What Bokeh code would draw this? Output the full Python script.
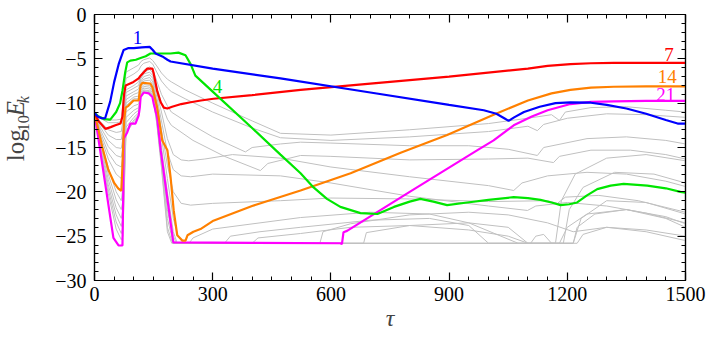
import math
from bokeh.plotting import figure
from bokeh.layouts import row
from bokeh.models import FixedTicker, LinearAxis, Label, Range1d, CustomLabelingPolicy
from bokeh.embed import file_html
from bokeh.resources import INLINE

# ---- kinetic energy of selected modes, log10 E_k versus time tau ----
mode_1 = [(0, -11.1), (8, -11.5), (18, -11.7), (27, -11.7), (40, -9.8), (50, -7.6), (62, -5.5),
          (74, -4.0), (85, -3.8), (100, -3.8), (120, -3.7), (140, -3.65), (148, -4.0), (155, -4.4),
          (165, -4.6), (175, -4.8), (185, -5.1), (193, -5.3), (300, -6.1), (472, -7.2), (700, -8.8),
          (900, -10.2), (988, -10.8), (1020, -11.2), (1040, -11.7), (1051, -12.0), (1065, -11.6),
          (1090, -11.0), (1130, -10.4), (1170, -10.0), (1208, -9.9), (1260, -9.95), (1300, -10.2),
          (1350, -10.6), (1400, -11.2), (1450, -11.9), (1480, -12.3), (1500, -12.3)]

mode_4 = [(0, -11.1), (10, -11.5), (25, -11.8), (40, -11.85), (55, -11.0), (65, -10.0), (71, -8.6),
          (78, -6.5), (83, -5.4), (91, -5.2), (105, -5.1), (117, -4.9), (130, -4.7), (142, -4.4),
          (168, -4.4), (193, -4.4), (213, -4.3), (231, -4.6), (244, -5.6), (256, -6.9), (300, -8.7),
          (400, -12.8), (472, -15.8), (523, -17.9), (556, -19.5), (590, -20.8), (624, -21.7),
          (675, -22.4), (718, -22.5), (760, -21.7), (800, -21.1), (827, -20.8), (860, -21.1),
          (895, -21.5), (946, -21.2), (1000, -20.9), (1064, -20.6), (1100, -20.7), (1132, -20.9),
          (1160, -21.2), (1183, -21.5), (1205, -21.4), (1225, -21.2), (1250, -20.4), (1276, -19.7),
          (1310, -19.3), (1343, -19.1), (1403, -19.3), (1450, -19.6), (1487, -20.0), (1500, -20.1)]

mode_7 = [(0, -11.1), (10, -12.0), (28, -12.9), (41, -12.7), (53, -12.5), (66, -12.3), (71, -11.5),
          (75, -9.0), (79, -8.0), (99, -7.6), (112, -7.2), (117, -6.9), (134, -6.1), (147, -6.1),
          (150, -6.6), (159, -8.6), (168, -9.9), (176, -10.5), (185, -10.6), (197, -10.4),
          (220, -10.1), (244, -9.9), (270, -9.7), (302, -9.5), (400, -9.1), (523, -8.5), (700, -7.8),
          (900, -7.0), (1100, -6.1), (1150, -5.8), (1208, -5.6), (1260, -5.5), (1318, -5.45),
          (1400, -5.45), (1500, -5.45)]

mode_14 = [(0, -11.1), (10, -13.0), (20, -15.0), (35, -17.5), (50, -19.0), (60, -19.6), (68, -19.9),
           (71, -17.0), (75, -12.0), (79, -10.5), (86, -10.3), (99, -9.7), (112, -9.7), (117, -8.0),
           (122, -7.7), (142, -7.8), (147, -8.2), (159, -10.5), (172, -14.2), (185, -15.3),
           (193, -18.3), (201, -22.1), (210, -24.9), (223, -25.5), (231, -25.5), (236, -24.9),
           (251, -24.5), (269, -24.2), (300, -23.3), (400, -21.6), (523, -19.85), (650, -17.9),
           (777, -15.6), (895, -13.6), (1013, -11.3), (1100, -9.7), (1160, -8.9), (1208, -8.5),
           (1260, -8.25), (1318, -8.15), (1400, -8.1), (1500, -8.1)]

mode_21 = [(0, -11.1), (48, -25.2), (61, -26.05), (71, -26.05), (73, -20.0), (74, -14.0), (83, -13.3),
           (91, -12.3), (104, -12.3), (112, -11.4), (115, -10.5), (117, -9.3), (125, -8.8),
           (138, -8.9), (147, -9.3), (150, -10.0), (159, -11.6), (168, -15.3), (185, -20.8),
           (200, -25.7), (400, -25.75), (624, -25.8), (628, -25.9), (632, -24.55), (641, -24.4),
           (800, -20.0), (972, -15.3), (1013, -14.2), (1064, -12.5), (1110, -11.5), (1150, -10.8),
           (1208, -10.1), (1260, -9.85), (1318, -9.8), (1400, -9.75), (1500, -9.75)]

# remaining modes, drawn in grey
mode_5 = [(0, -11.1), (15, -11.5), (35, -11.9), (55, -11.9), (68, -11.8), (72, -10.0), (80, -6.5),
          (100, -6.0), (112, -5.7), (118, -5.3), (125, -5.1), (140, -4.9), (148, -5.2), (158, -5.8),
          (170, -6.6), (185, -7.3), (195, -7.6), (230, -8.5), (300, -10.0), (400, -12.0), (472, -13.4),
          (600, -13.6), (800, -13.0), (1000, -12.3), (1100, -11.7), (1160, -11.3), (1180, -11.95),
          (1195, -11.0), (1260, -10.5), (1350, -10.4), (1450, -10.8), (1500, -11.0)]
mode_6 = [(0, -11.1), (15, -11.7), (35, -12.2), (55, -12.2), (68, -12.1), (72, -10.5), (80, -7.2),
          (100, -6.7), (112, -6.3), (118, -5.8), (125, -5.5), (140, -5.3), (148, -5.6), (158, -6.5),
          (170, -7.5), (185, -8.3), (195, -8.7), (230, -9.5), (300, -11.0), (400, -12.8), (472, -13.9),
          (600, -14.2), (800, -13.8), (1000, -13.2), (1100, -12.6), (1124, -13.1), (1140, -12.4),
          (1200, -11.7), (1300, -11.2), (1400, -11.3), (1500, -11.6)]
mode_8 = [(0, -11.1), (15, -12.1), (35, -13.0), (55, -13.3), (68, -13.2), (72, -12.0), (80, -8.5),
          (100, -8.0), (112, -7.6), (118, -6.8), (125, -6.3), (140, -5.9), (148, -6.2), (158, -7.5),
          (170, -9.0), (185, -10.3), (195, -11.0), (230, -12.0), (300, -13.8), (383, -15.5),
          (400, -15.0), (472, -14.6), (523, -14.4), (600, -14.5), (800, -14.8), (950, -14.8),
          (1050, -15.2), (1124, -15.9), (1140, -15.0), (1250, -14.0), (1350, -13.8), (1450, -14.2),
          (1500, -14.6)]
mode_9 = [(0, -11.1), (15, -12.4), (35, -13.6), (55, -14.1), (68, -14.1), (72, -13.0), (80, -8.8),
          (100, -8.3), (112, -8.0), (118, -7.0), (125, -6.5), (140, -6.2), (148, -6.6), (158, -8.2),
          (170, -10.0), (185, -11.8), (195, -12.5), (250, -14.2), (330, -16.0), (421, -17.6),
          (440, -16.8), (523, -15.9), (600, -16.0), (800, -16.4), (1000, -16.3), (1100, -16.2),
          (1165, -16.7), (1180, -16.0), (1260, -15.3), (1360, -15.3), (1450, -15.8), (1500, -16.3)]
mode_10 = [(0, -11.1), (15, -12.7), (35, -14.2), (55, -15.0), (68, -15.1), (72, -14.0), (80, -9.2),
           (100, -8.7), (112, -8.4), (118, -7.2), (125, -6.7), (140, -6.5), (148, -6.9), (158, -8.8),
           (170, -11.0), (185, -14.0), (200, -15.8), (220, -16.4), (239, -16.5), (280, -16.3),
           (350, -15.8), (472, -16.2), (600, -17.2), (800, -18.3), (1000, -19.3), (1064, -19.85),
           (1085, -19.0), (1150, -18.2), (1250, -17.8), (1350, -18.0), (1450, -18.8), (1500, -19.4)]
mode_11 = [(0, -11.1), (15, -13.0), (35, -14.9), (55, -15.9), (68, -16.1), (72, -15.0), (80, -9.6),
           (100, -9.0), (112, -8.8), (118, -7.5), (125, -7.0), (140, -6.8), (148, -7.2), (158, -9.3),
           (170, -12.0), (185, -15.5), (200, -17.5), (220, -18.2), (244, -18.3), (300, -18.0),
           (472, -18.2), (600, -19.0), (800, -20.5), (1000, -21.6), (1099, -22.1), (1120, -21.6),
           (1200, -21.2), (1300, -21.6), (1400, -22.4), (1500, -23.5)]
mode_12 = [(0, -11.1), (15, -13.3), (35, -15.6), (55, -16.9), (68, -17.2), (72, -16.0), (80, -10.0),
           (100, -9.3), (112, -9.2), (118, -7.7), (125, -7.3), (140, -7.1), (148, -7.6), (158, -9.8),
           (170, -13.0), (185, -17.0), (200, -20.0), (220, -21.3), (244, -21.5), (300, -21.3),
           (472, -21.0), (600, -20.7), (800, -20.8), (1000, -21.1), (1150, -21.0), (1175, -21.3),
           (1195, -20.6), (1280, -20.4), (1380, -21.0), (1500, -22.3)]
mode_13 = [(0, -11.1), (15, -13.6), (35, -16.3), (55, -18.0), (68, -18.5), (72, -17.0), (80, -10.3),
           (100, -9.5), (112, -9.5), (118, -7.9), (125, -7.5), (140, -7.4), (148, -7.9), (158, -10.2),
           (170, -13.8), (185, -18.5), (200, -23.0), (212, -25.0), (225, -25.8), (330, -25.8),
           (345, -25.0), (420, -24.5), (523, -24.0), (700, -23.2), (850, -23.0), (950, -23.8),
           (1000, -25.8), (1170, -25.8), (1185, -21.0), (1220, -18.0), (1300, -16.2), (1400, -15.8),
           (1500, -16.5)]
mode_15 = [(0, -11.1), (15, -14.0), (35, -17.3), (55, -20.0), (68, -21.0), (72, -19.5), (80, -11.0),
           (100, -10.3), (112, -10.1), (118, -8.3), (125, -7.9), (140, -8.0), (148, -8.5), (158, -11.0),
           (170, -15.0), (185, -20.0), (200, -24.5), (210, -25.8), (240, -25.8), (250, -25.2),
           (300, -24.2), (523, -22.9), (700, -22.3), (850, -22.5), (950, -23.5), (1075, -25.8),
           (1180, -25.8), (1200, -24.0), (1250, -22.5), (1350, -22.0), (1450, -22.8), (1500, -23.6)]
mode_16 = [(0, -11.1), (15, -14.3), (35, -18.0), (55, -20.9), (68, -22.0), (72, -21.0), (80, -11.6),
           (100, -10.8), (112, -10.5), (118, -8.6), (125, -8.1), (140, -8.2), (148, -8.7), (158, -11.3),
           (170, -15.5), (185, -21.0), (200, -25.0), (208, -25.8), (400, -25.8), (415, -25.2),
           (523, -24.7), (650, -24.0), (800, -23.8), (950, -24.3), (1050, -25.0), (1100, -25.8),
           (1190, -25.8), (1205, -22.0), (1240, -19.5), (1320, -17.8), (1420, -18.0), (1500, -19.0)]
mode_17 = [(0, -11.1), (15, -14.6), (35, -18.6), (55, -21.8), (68, -23.0), (72, -22.0), (80, -12.2),
           (100, -11.2), (112, -10.8), (118, -8.8), (125, -8.3), (140, -8.4), (148, -8.9), (158, -11.6),
           (170, -16.0), (185, -22.0), (200, -25.5), (206, -25.8), (572, -25.8), (580, -24.5),
           (650, -23.6), (800, -22.6), (950, -22.3), (1050, -22.6), (1150, -23.5), (1215, -24.5),
           (1300, -24.0), (1400, -24.3), (1500, -25.0)]
mode_18 = [(0, -11.1), (15, -14.9), (35, -19.2), (55, -22.6), (68, -23.9), (72, -23.0), (80, -12.7),
           (100, -11.6), (112, -11.1), (118, -9.0), (125, -8.5), (140, -8.6), (148, -9.1), (158, -11.9),
           (170, -16.5), (185, -23.0), (200, -25.8), (683, -25.8), (690, -24.6), (800, -23.8),
           (950, -23.5), (1050, -24.0), (1100, -25.8), (1215, -25.8), (1225, -24.0), (1270, -22.5),
           (1350, -22.0), (1450, -23.0), (1500, -24.0)]
mode_19 = [(0, -11.1), (15, -15.2), (35, -19.7), (55, -23.4), (68, -24.7), (72, -24.0), (80, -13.1),
           (100, -11.9), (112, -11.3), (118, -9.1), (125, -8.6), (140, -8.7), (148, -9.2), (158, -12.1),
           (170, -17.0), (185, -24.0), (198, -25.8), (1225, -25.8), (1240, -24.8), (1300, -24.0),
           (1400, -24.5), (1500, -25.5)]
mode_20 = [(0, -11.1), (15, -15.4), (35, -20.2), (55, -24.2), (68, -25.4), (72, -25.0), (80, -13.4),
           (100, -12.1), (112, -11.4), (118, -9.2), (125, -8.7), (140, -8.8), (148, -9.3), (158, -12.3),
           (170, -17.3), (185, -24.5), (196, -25.8), (1107, -25.8), (1120, -25.0), (1140, -24.8),
           (1160, -25.8), (1215, -25.8), (1235, -23.0), (1300, -21.0), (1400, -21.2), (1500, -22.5)]

grey_modes = [mode_5, mode_6, mode_8, mode_9, mode_10, mode_11, mode_12, mode_13,
              mode_15, mode_16, mode_17, mode_18, mode_19, mode_20]

x_ticks = [0, 300, 600, 900, 1200, 1500]
y_ticks = [-30, -25, -20, -15, -10, -5, 0]

SERIF = "Liberation Serif"
GREY = "#c0c0c0"
BLUE, GREEN, RED, ORANGE, MAGENTA = "#0000ff", "#00e600", "#ff0000", "#ff8000", "#ff00ff"

LABEL_W = 50   # width of the strip that carries the rotated y title

p = figure(width=707 - LABEL_W, height=337, x_range=Range1d(0, 1500), y_range=Range1d(-30, 0),
           output_backend="svg", toolbar_location=None,
           min_border_left=94 - LABEL_W, min_border_right=22, min_border_top=14, min_border_bottom=57,
           x_axis_location=None, y_axis_location=None)
p.grid.visible = False
p.outline_line_color = "black"
p.outline_line_width = 1.2
p.background_fill_color = "white"
p.border_fill_color = "white"

xticker = FixedTicker(ticks=x_ticks, minor_ticks=list(range(0, 1501, 50)))
yticker = FixedTicker(ticks=y_ticks, minor_ticks=list(range(-30, 1)))
y_names = {v: ("\u2212%d" % -v if v < 0 else "%d" % v) for v in y_ticks}
no_labels = CustomLabelingPolicy(code="return new Set()")

def styled_axis(ticker, show_labels):
    ax = LinearAxis(ticker=ticker)
    ax.axis_line_color = "black"
    ax.axis_line_width = 1.2
    ax.major_tick_in = 8
    ax.major_tick_out = 0
    ax.minor_tick_in = 4
    ax.minor_tick_out = 0
    ax.major_tick_line_color = "black"
    ax.minor_tick_line_color = "black"
    ax.major_tick_line_width = 1.2
    ax.minor_tick_line_width = 1.0
    ax.major_label_text_font = SERIF
    ax.major_label_text_color = "black"
    if show_labels:
        ax.major_label_text_font_size = "20px"
    else:
        # tick marks only on the mirrored sides
        ax.major_label_text_font_size = "1px"
        ax.major_label_policy = no_labels
        ax.major_label_standoff = 0
    return ax

bottom = styled_axis(xticker, True)
bottom.major_label_standoff = 6
bottom.axis_label = "\u03c4"
bottom.axis_label_text_font = SERIF
bottom.axis_label_text_font_style = "italic"
bottom.axis_label_text_font_size = "24px"
bottom.axis_label_standoff = 1
left = styled_axis(yticker, True)
left.major_label_standoff = 8
left.major_label_overrides = y_names
p.add_layout(bottom, "below")
p.add_layout(left, "left")
p.add_layout(styled_axis(xticker, False), "above")
p.add_layout(styled_axis(yticker, False), "right")

for m in grey_modes:
    t, e = zip(*m)
    p.line(list(t), list(e), line_color=GREY, line_width=1.0)

for m, c in [(mode_21, MAGENTA), (mode_14, ORANGE), (mode_7, RED), (mode_4, GREEN), (mode_1, BLUE)]:
    t, e = zip(*m)
    p.line(list(t), list(e), line_color=c, line_width=2.2)

# mode numbers next to the coloured curves
for txt, x, y, c, align in [("1", 109, -2.65, BLUE, "center"), ("4", 312, -8.12, GREEN, "center"),
                            ("7", 1470, -4.5, RED, "right"), ("14", 1478, -6.94, ORANGE, "right"),
                            ("21", 1474, -8.97, MAGENTA, "right")]:
    p.add_layout(Label(x=x, y=y, text=txt, text_color=c, text_font=SERIF, text_font_size="19px",
                       text_align=align, text_baseline="middle"))

# strip on the left with the rotated title log10 E_k (pixel coordinates, origin top-left)
ylab = figure(width=LABEL_W, height=337, x_range=Range1d(0, LABEL_W), y_range=Range1d(337, 0),
              output_backend="svg", toolbar_location=None, min_border=0,
              x_axis_location=None, y_axis_location=None)
ylab.grid.visible = False
ylab.outline_line_color = None
ylab.border_fill_color = "white"
for txt, ypos, size, style, xpos in [("log", 186, "25px", "normal", 15),
                                     ("10", 148, "16px", "normal", 22.5),
                                     ("E", 129, "25px", "italic", 15),
                                     ("k", 112.5, "16px", "italic", 22.5)]:
    ylab.add_layout(Label(x=xpos, y=ypos, text=txt, angle=math.pi / 2, angle_units="rad",
                          text_font=SERIF, text_font_size=size, text_font_style=style,
                          text_align="left", text_baseline="middle"))

layout = row(ylab, p)
open("out.html", "w").write(file_html(layout, INLINE))
